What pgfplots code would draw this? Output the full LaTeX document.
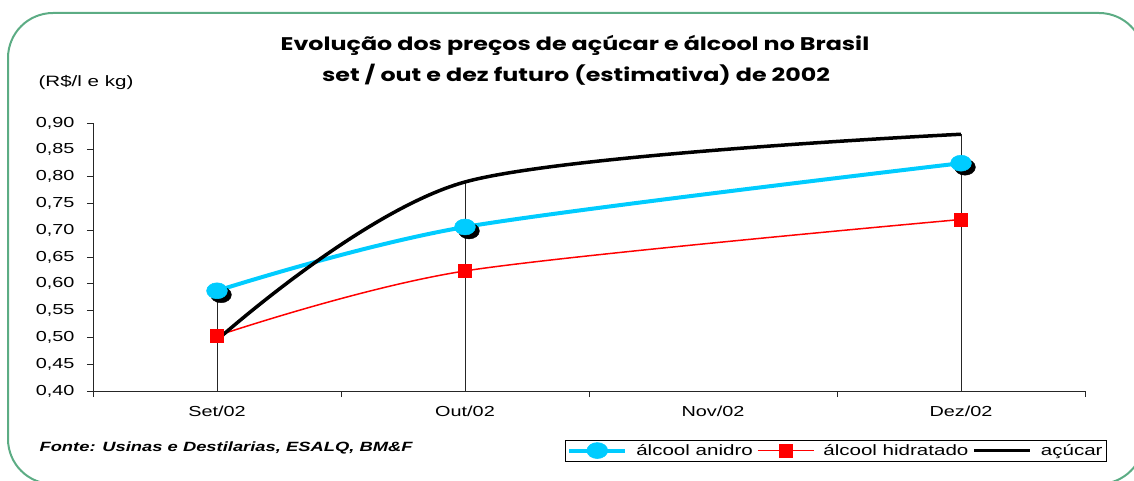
\documentclass[border=0pt]{standalone}
\usepackage{fontspec}
\setmainfont{Liberation Sans}[FakeStretch=1.37]
\newfontfamily\titlefont{Poppins}[FakeStretch=1.3]
\usepackage{pgfplots}
\pgfplotsset{compat=1.18}
\definecolor{framegreen}{RGB}{92,172,132}
\definecolor{anidro}{RGB}{0,204,255}
\definecolor{hidrat}{RGB}{255,0,0}
\begin{document}
\begin{tikzpicture}[x=1pt,y=1pt]
\path (0,0) rectangle (1134,480);
\draw[overlay, framegreen, line width=2pt, rounded corners=45pt] (8,-4) rectangle (1144,467);
\node[font=\titlefont\bfseries\fontsize{18.3}{21}\selectfont] at (575,435) {Evolução dos preços de açúcar e álcool no Brasil};
\node[font=\titlefont\bfseries\fontsize{18.3}{21}\selectfont] at (576,405) {set / out e dez futuro (estimativa) de 2002};
\node[font=\fontsize{15}{18}\selectfont] at (86,397) {(R\$/l e kg)};
\node[font=\bfseries\itshape\fontsize{13.4}{16}\selectfont, anchor=west] at (36,32) {Fonte: Usinas e Destilarias, ESALQ, BM\&F};
\begin{axis}[
  at={(93pt,89pt)}, anchor=south west,
  scale only axis, width=992pt, height=268pt,
  xmin=-0.5, xmax=3.5, ymin=0.4, ymax=0.9,
  axis x line=bottom, axis y line=left,
  axis line style={-, draw=black!85, line width=0.8pt},
  xtick={0,1,2,3}, xticklabels={Set/02,Out/02,Nov/02,Dez/02},
  major x tick style={draw=none},
  minor xtick={-0.5,0.5,1.5,2.5,3.5},
  ytick={0.4,0.45,0.5,0.55,0.6,0.65,0.7,0.75,0.8,0.85,0.9},
  tick align=outside, major tick length=6pt, minor tick length=6pt,
  tick style={black!85, line width=0.8pt},
  tick label style={font=\fontsize{14.5}{17}\selectfont},
  /pgf/number format/assume math mode=true,
  yticklabel style={xshift=-9pt, /pgf/number format/.cd, fixed, fixed zerofill, precision=2, use comma},
  xticklabel style={yshift=-5pt},
  legend columns=3,
  legend style={at={(0.4758,-0.1828)}, anchor=north west, draw=black, line width=0.6pt,
    font=\fontsize{15}{18}\selectfont, inner sep=2pt,
    /tikz/every even column/.append style={column sep=2pt},
    /tikz/every odd column/.append style={column sep=7pt}},
  legend image code/.code={\draw[#1, mark repeat=2, mark phase=2] plot coordinates {(0pt,0pt)(28pt,0pt)(56pt,0pt)};},
]
\addplot[ycomb, black!85, line width=0.8pt, no markers, forget plot] coordinates {(0,0.587) (1,0.79) (3,0.879)};
\addplot[only marks, forget plot, mark=*, mark size=8pt, black,
  mark options={xshift=4pt, yshift=-4pt, xscale=1.3, fill=black}] coordinates {(0,0.587) (1,0.706) (3,0.825)};
\addplot[anidro, line width=4pt, smooth, mark=*, mark size=8pt,
  mark options={xscale=1.3, fill=anidro, draw=anidro, line width=0.5pt}] coordinates {(0,0.587) (1,0.706) (3,0.825)};
\addlegendentry{álcool anidro}
\addplot[hidrat, line width=1.5pt, smooth, mark=square*, mark size=6.5pt,
  mark options={fill=hidrat, draw=hidrat, line width=0.5pt}] coordinates {(0,0.503) (1,0.624) (3,0.720)};
\addlegendentry{álcool hidratado}
\addplot[black, line width=3.5pt, smooth, no markers] coordinates {(0,0.495) (1,0.790) (3,0.879)};
\addlegendentry{açúcar}
\end{axis}
\end{tikzpicture}
\end{document}
